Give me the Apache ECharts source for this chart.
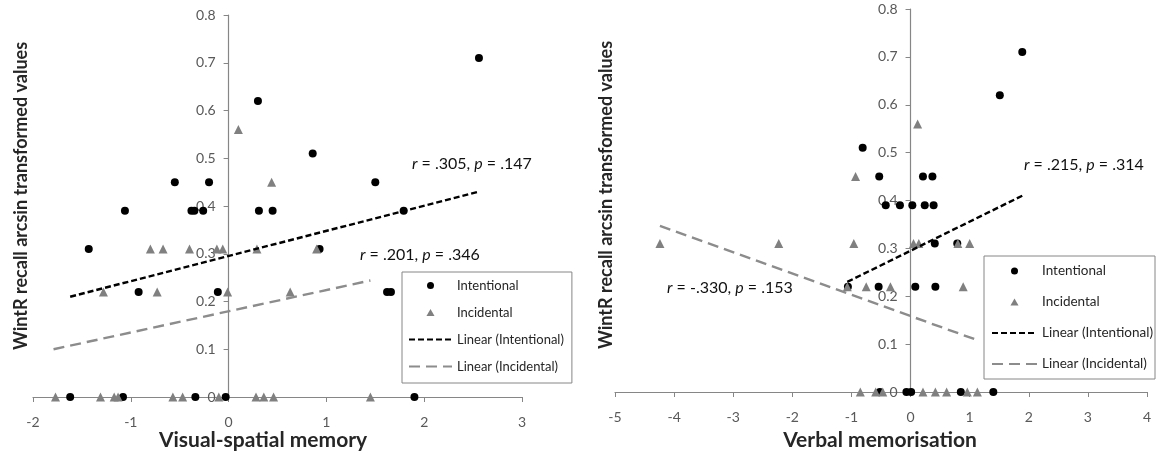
<!DOCTYPE html>
<html>
<head>
<meta charset="utf-8">
<script src="https://cdn.jsdelivr.net/npm/echarts@6/dist/echarts.min.js"></script>
<style>html,body{margin:0;padding:0;background:#fff;}#c{width:1156px;height:453px;}</style>
</head>
<body>
<div id="c"></div>
<script>
// ---- Data ----
// Left panel: Visual-spatial memory
const leftIntentional = [
  [-1.43,0.31],[-1.06,0.39],[-0.55,0.45],[-0.20,0.45],[-0.38,0.39],[-0.35,0.39],[-0.26,0.39],
  [-0.92,0.22],[-0.11,0.22],[0.31,0.39],[0.45,0.39],[0.86,0.51],[1.50,0.45],[1.79,0.39],
  [0.93,0.31],[1.62,0.22],[1.66,0.22],[0.30,0.62],[2.56,0.71],
  [-1.62,0],[-1.08,0],[-0.34,0],[-0.03,0],[1.90,0]
];
const leftIncidental = [
  [0.10,0.56],[0.44,0.45],[-0.80,0.31],[-0.67,0.31],[-0.40,0.31],[-0.12,0.31],[-0.06,0.31],
  [0.29,0.31],[0.90,0.31],[-1.28,0.22],[-0.73,0.22],[-0.01,0.22],[0.63,0.22],
  [-1.77,0],[-1.31,0],[-1.17,0],[-1.13,0],[-0.57,0],[-0.47,0],[-0.10,0],[0.28,0],[0.36,0],[0.46,0],[1.45,0]
];
const leftIntentionalTrend = [[-1.62,0.21],[2.56,0.43]];
const leftIncidentalTrend = [[-1.79,0.10],[1.45,0.244]];
const leftXRange = [-2, 3];

// Right panel: Verbal memorisation
const rightIntentional = [
  [1.89,0.71],[1.51,0.62],[-0.81,0.51],[-0.53,0.45],[0.21,0.45],[0.37,0.45],
  [-0.42,0.39],[-0.18,0.39],[0.03,0.39],[0.24,0.39],[0.39,0.39],
  [0.41,0.31],[0.79,0.31],
  [-1.06,0.22],[-0.54,0.22],[0.08,0.22],[0.42,0.22],
  [-0.07,0],[0.01,0],[0.85,0],[1.40,0],[-0.52,0]
];
const rightIncidental = [
  [-4.24,0.31],[-2.23,0.31],[-0.96,0.31],[-0.93,0.45],[-1.07,0.22],[-0.75,0.22],[-0.34,0.22],
  [0.12,0.56],[0.05,0.31],[0.14,0.31],[0.80,0.31],[1.00,0.31],[0.89,0.22],
  [-0.85,0],[-0.59,0],[-0.47,0],[0.21,0],[0.42,0],[0.61,0],[0.96,0],[1.13,0]
];
const rightIntentionalTrend = [[-1.07,0.23],[1.89,0.41]];
const rightIncidentalTrend = [[-4.24,0.347],[1.16,0.107]];
const rightXRange = [-5, 4];

const yRange = [0, 0.8];
const seriesNames = ['Intentional','Incidental','Linear (Intentional)','Linear (Incidental)'];
const annotations = {
  leftA: ['r', ' = .305, ', 'p', ' = .147'],
  leftB: ['r', ' = .201, ', 'p', ' = .346'],
  rightA: ['r', ' = .215, ', 'p', ' = .314'],
  rightB: ['r', ' = -.330, ', 'p', ' = .153']
};
const xTitles = ['Visual-spatial memory', 'Verbal memorisation'];
const yTitle = 'WintR recall arcsin transformed values';

// ---- Layout / styling ----
const FONT = 'Lato, "Noto Sans", sans-serif';
const AXIS_COLOR = '#868686';
const LABEL_COLOR = '#595959';
const TEXT_COLOR = '#262626';
const grids = [
  { left: 33, top: 15, width: 489, height: 382 },
  { left: 615, top: 9, width: 532, height: 383 }
];
const TRI_ICON = 'path://M5,0L10,8.66L0,8.66Z';

function xAxisCfg(idx, range) {
  return {
    type: 'value', gridIndex: idx, min: range[0], max: range[1], interval: 1,
    axisLine: { show: true, onZero: false, lineStyle: { color: AXIS_COLOR, width: 1.2 } },
    axisTick: { show: true, length: 5, lineStyle: { color: AXIS_COLOR } },
    splitLine: { show: false },
    axisLabel: { color: LABEL_COLOR, fontSize: 14, fontFamily: FONT, margin: 18 }
  };
}
function yAxisCfg(idx, xRange) {
  // place the y axis at x = 0 of the x axis
  const off = -(0 - xRange[0]) / (xRange[1] - xRange[0]) * grids[idx].width;
  return {
    type: 'value', gridIndex: idx, min: yRange[0], max: yRange[1], interval: 0.1,
    position: 'left', offset: off,
    axisLine: { show: true, onZero: false, lineStyle: { color: AXIS_COLOR, width: 1.2 } },
    axisTick: { show: true, length: 5, lineStyle: { color: AXIS_COLOR } },
    splitLine: { show: false },
    axisLabel: {
      color: LABEL_COLOR, fontSize: 14, fontFamily: FONT, margin: 13,
      formatter: v => (Math.abs(v) < 1e-9 ? '0' : v.toFixed(1))
    }
  };
}
function scatterSeries(name, data, idx, symbol, color, size) {
  return {
    name: name, type: 'scatter', xAxisIndex: idx, yAxisIndex: idx,
    data: data, symbol: symbol, symbolSize: size, z: 3,
    itemStyle: { color: color, opacity: 1 }, silent: true
  };
}
function trendSeries(name, data, idx, color, dash) {
  return {
    name: name, type: 'line', xAxisIndex: idx, yAxisIndex: idx,
    data: data, symbol: 'none', showSymbol: false, z: 5,
    itemStyle: { color: color },
    lineStyle: { color: color, width: 2.4, type: dash }, silent: true
  };
}
function legendCfg(left, top, itemWidth, itemGap, padding, fontSize) {
  return {
    orient: 'vertical', left: left, top: top,
    data: [
      { name: seriesNames[0], icon: 'circle' },
      { name: seriesNames[1], icon: TRI_ICON },
      { name: seriesNames[2], itemStyle: { opacity: 0 } },
      { name: seriesNames[3], itemStyle: { opacity: 0 } }
    ],
    itemWidth: itemWidth, itemHeight: 7, itemGap: itemGap, padding: padding,
    borderColor: AXIS_COLOR, borderWidth: 1, selectedMode: false,
    textStyle: { fontSize: fontSize, fontFamily: FONT, color: TEXT_COLOR }
  };
}
function annot(parts, x, y) {
  return {
    type: 'text', x: x, y: y, z: 10,
    style: {
      text: '{i|' + parts[0] + '}' + parts[1] + '{i|' + parts[2] + '}' + parts[3],
      font: '16px ' + FONT, fill: '#111', verticalAlign: 'middle', align: 'left',
      rich: { i: { fontStyle: 'italic', fontSize: 16, fontFamily: FONT, fill: '#111' } }
    }
  };
}

const chart = echarts.init(document.getElementById('c'), null, { renderer: 'canvas' });
chart.setOption({
  animation: false,
  backgroundColor: '#fff',
  grid: grids,
  xAxis: [xAxisCfg(0, leftXRange), xAxisCfg(1, rightXRange)],
  yAxis: [yAxisCfg(0, leftXRange), yAxisCfg(1, rightXRange)],
  legend: [
    legendCfg(402, 272, 43, 14, [7, 8, 10, 6], 13),
    legendCfg(984, 256, 45, 17, [8, 2, 8, 7], 13.5)
  ],
  series: [
    scatterSeries(seriesNames[0], leftIntentional, 0, 'circle', '#000', 8),
    scatterSeries(seriesNames[1], leftIncidental, 0, 'triangle', '#808080', 9),
    trendSeries(seriesNames[2], leftIntentionalTrend, 0, '#000', [6, 3]),
    trendSeries(seriesNames[3], leftIncidentalTrend, 0, '#8c8c8c', [11, 6]),
    scatterSeries(seriesNames[0], rightIntentional, 1, 'circle', '#000', 8),
    scatterSeries(seriesNames[1], rightIncidental, 1, 'triangle', '#808080', 9),
    trendSeries(seriesNames[2], rightIntentionalTrend, 1, '#000', [6, 3]),
    trendSeries(seriesNames[3], rightIncidentalTrend, 1, '#8c8c8c', [11, 6])
  ],
  graphic: [
    { type: 'text', x: 21, y: 196, rotation: Math.PI / 2,
      style: { text: yTitle, font: 'bold 18px ' + FONT, fill: TEXT_COLOR, align: 'center', verticalAlign: 'middle' } },
    { type: 'text', x: 606, y: 195, rotation: Math.PI / 2,
      style: { text: yTitle, font: 'bold 18px ' + FONT, fill: TEXT_COLOR, align: 'center', verticalAlign: 'middle' } },
    { type: 'text', x: 263, y: 440,
      style: { text: xTitles[0], font: 'bold 21px ' + FONT, fill: TEXT_COLOR, align: 'center', verticalAlign: 'middle' } },
    { type: 'text', x: 880, y: 440,
      style: { text: xTitles[1], font: 'bold 21px ' + FONT, fill: TEXT_COLOR, align: 'center', verticalAlign: 'middle' } },
    annot(annotations.leftA, 412, 164),
    annot(annotations.leftB, 360, 255),
    annot(annotations.rightA, 1024, 165),
    annot(annotations.rightB, 667, 288)
  ]
});
</script>
</body>
</html>
